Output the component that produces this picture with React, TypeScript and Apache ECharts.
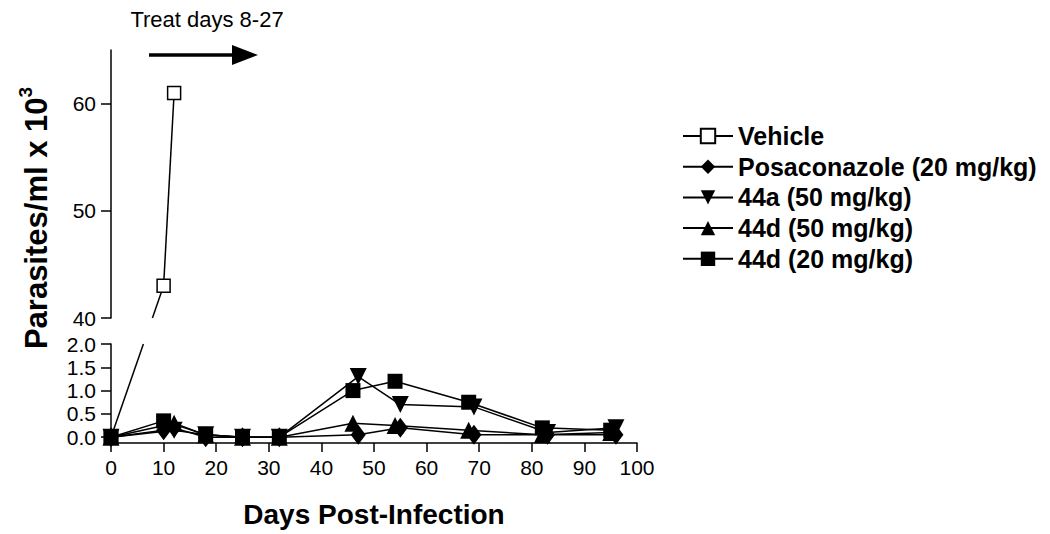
import React, { useEffect, useRef } from "react";
import * as echarts from "echarts";

const FONT = "'Liberation Sans', Arial, Helvetica, sans-serif";

const seriesNames = [
  "Vehicle",
  "Posaconazole (20 mg/kg)",
  "44a (50 mg/kg)",
  "44d (50 mg/kg)",
  "44d (20 mg/kg)",
];

const vehicleDays = [0, 10, 12];
const vehicleValues = [0, 43, 61];

const posaDays = [0, 10, 12, 18, 25, 32, 47, 55, 69, 83, 96];
const posaValues = [0, 0.15, 0.2, 0, 0, 0, 0.05, 0.2, 0.05, 0.05, 0.05];

const a44Days = [0, 12, 18, 25, 32, 47, 55, 69, 83, 96];
const a44Values = [0, 0.15, 0.05, 0, 0, 1.3, 0.7, 0.65, 0.1, 0.2];

const d44hiDays = [0, 12, 18, 25, 32, 46, 54, 68, 82, 95];
const d44hiValues = [0, 0.3, 0.05, 0, 0, 0.3, 0.25, 0.15, 0.05, 0.1];

const d44loDays = [0, 10, 18, 25, 32, 46, 54, 68, 82, 95];
const d44loValues = [0, 0.35, 0.05, 0, 0, 1.0, 1.2, 0.75, 0.2, 0.15];

const xTicks = [0, 10, 20, 30, 40, 50, 60, 70, 80, 90, 100];
const lowTicks = [0, 0.5, 1.0, 1.5, 2.0];
const highTicks = [40, 50, 60];
const lowRange = [-0.125, 2];
const highRange = [40, 65];

const treatLabel = "Treat days 8-27";
const xTitle = "Days Post-Infection";

const pairs = (xs: number[], ys: number[]) => xs.map((x, i) => [x, ys[i]]);

export default function App() {
  const ref = useRef<HTMLDivElement>(null);
  useEffect(() => {
    if (!ref.current) return;
    const chart = echarts.init(ref.current, null, { renderer: "svg" });
    const black = "#000";
    const axisCommon = {
      axisLine: { show: true, onZero: false, lineStyle: { color: black, width: 1.5 } },
      axisTick: { show: true, length: 10, lineStyle: { color: black, width: 1.5 } },
      splitLine: { show: false },
    };
    const labelStyle = { color: black, fontFamily: FONT, fontSize: 21 };

    const vehLow = pairs(vehicleDays, vehicleValues).filter((p) => p[1] <= lowRange[1]);
    const vehHigh = pairs(vehicleDays, vehicleValues).filter((p) => p[1] >= highRange[0]);

    const lineSeries = (
      name: string,
      data: number[][],
      symbol: string,
      size: number | number[],
      rotate = 0
    ) => ({
      type: "line",
      name,
      xAxisIndex: 1,
      yAxisIndex: 1,
      data,
      symbol,
      symbolSize: size,
      symbolRotate: rotate,
      showAllSymbol: true,
      lineStyle: { color: black, width: 1.5 },
      itemStyle: { color: black, borderColor: black, borderWidth: 0 },
      emphasis: { disabled: true },
      clip: false,
    });

    const vehicleStyle = {
      symbol: "rect",
      symbolSize: 13,
      lineStyle: { color: black, width: 1.5 },
      itemStyle: { color: "#fff", borderColor: black, borderWidth: 1.5 },
      emphasis: { disabled: true },
    };

    chart.setOption({
      animation: false,
      grid: [
        { left: 111, right: 413, top: 50, bottom: 216, containLabel: false },
        { left: 111, right: 413, top: 344, bottom: 91, containLabel: false },
      ],
      xAxis: [
        { type: "value", gridIndex: 0, min: 0, max: 100, show: false },
        {
          type: "value",
          gridIndex: 1,
          min: 0,
          max: 100,
          interval: 10,
          ...axisCommon,
          axisTick: { show: true, length: 9, lineStyle: { color: black, width: 1.5 } },
          axisLabel: {
            ...labelStyle,
            margin: 14,
            customValues: xTicks,
            formatter: (v: number) => String(v),
          },
          name: xTitle,
          nameLocation: "middle",
          nameGap: 57,
          nameTextStyle: { color: black, fontFamily: FONT, fontSize: 28, fontWeight: "bold" },
        },
      ],
      yAxis: [
        {
          type: "value",
          gridIndex: 0,
          min: highRange[0],
          max: highRange[1],
          ...axisCommon,
          axisTick: { ...axisCommon.axisTick, customValues: highTicks },
          axisLabel: {
            ...labelStyle,
            margin: 15,
            customValues: highTicks,
            formatter: (v: number) => String(v),
          },
        },
        {
          type: "value",
          gridIndex: 1,
          min: lowRange[0],
          max: lowRange[1],
          ...axisCommon,
          axisTick: { ...axisCommon.axisTick, customValues: lowTicks },
          axisLabel: {
            ...labelStyle,
            margin: 15,
            customValues: lowTicks,
            formatter: (v: number) => v.toFixed(1),
          },
        },
      ],
      legend: {
        orient: "vertical",
        left: 677,
        top: 118,
        itemWidth: 50,
        itemHeight: 18,
        itemGap: 4.7,
        selectedMode: false,
        data: seriesNames,
        textStyle: {
          color: black,
          fontFamily: FONT,
          fontSize: 25,
          fontWeight: "bold",
          lineHeight: 26,
        },
      },
      series: [
        { type: "line", name: seriesNames[0], xAxisIndex: 0, yAxisIndex: 0, data: vehHigh, ...vehicleStyle, z: 3 },
        { type: "line", name: seriesNames[0], xAxisIndex: 1, yAxisIndex: 1, data: vehLow, ...vehicleStyle, z: 1 },
        lineSeries(seriesNames[1], pairs(posaDays, posaValues), "diamond", [15, 20]),
        lineSeries(seriesNames[2], pairs(a44Days, a44Values), "triangle", 17, 180),
        lineSeries(seriesNames[3], pairs(d44hiDays, d44hiValues), "triangle", 17),
        lineSeries(seriesNames[4], pairs(d44loDays, d44loValues), "rect", 15),
      ],
    });

    // connector of Vehicle line across the axis break
    const last = vehLow[vehLow.length - 1];
    const first = vehHigh[0];
    const p0 = chart.convertToPixel({ gridIndex: 1 } as any, last) as number[];
    const p1 = chart.convertToPixel({ gridIndex: 0 } as any, first) as number[];
    const yLowTop = chart.convertToPixel({ yAxisIndex: 1 } as any, lowRange[1]) as unknown as number;
    const yHighBottom = chart.convertToPixel({ yAxisIndex: 0 } as any, highRange[0]) as unknown as number;
    const xAt = (y: number) => p0[0] + ((p1[0] - p0[0]) * (y - p0[1])) / (p1[1] - p0[1]);

    chart.setOption({
      graphic: [
        {
          type: "line",
          z: 1,
          shape: { x1: p0[0], y1: p0[1], x2: xAt(yLowTop), y2: yLowTop },
          style: { stroke: black, lineWidth: 1.5 },
        },
        {
          type: "line",
          z: 1,
          shape: { x1: xAt(yHighBottom), y1: yHighBottom, x2: p1[0], y2: p1[1] },
          style: { stroke: black, lineWidth: 1.5 },
        },
        {
          type: "text",
          x: 207,
          y: 19,
          style: {
            text: treatLabel,
            fill: black,
            font: `22px ${FONT}`,
            textAlign: "center",
            textVerticalAlign: "middle",
          },
        },
        {
          type: "line",
          shape: { x1: 149, y1: 55, x2: 236, y2: 55 },
          style: { stroke: black, lineWidth: 3.5 },
        },
        {
          type: "polygon",
          shape: { points: [[232, 45], [258, 55], [232, 65]] },
          style: { fill: black },
        },
        {
          type: "text",
          x: 34,
          y: 218,
          rotation: Math.PI / 2,
          style: {
            text: "{a|Parasites/ml x 10}{s|3}",
            fill: black,
            textAlign: "center",
            textVerticalAlign: "middle",
            rich: {
              a: { fontFamily: FONT, fontSize: 31, fontWeight: "bold", fill: black, lineHeight: 36, verticalAlign: "bottom" },
              s: { fontFamily: FONT, fontSize: 19, fontWeight: "bold", fill: black, lineHeight: 36, verticalAlign: "top" },
            },
          },
        },
      ],
    });

    return () => chart.dispose();
  }, []);
  return (
    <div
      ref={ref}
      style={{ position: "absolute", left: 0, top: 0, width: 1050, height: 534, background: "#fff" }}
    />
  );
}
